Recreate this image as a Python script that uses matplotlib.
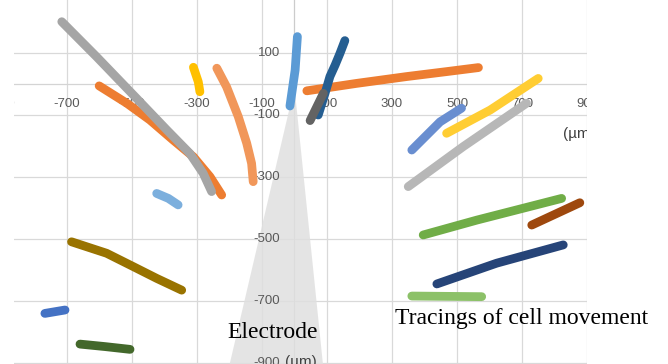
import numpy as np
import matplotlib
matplotlib.use("Agg")
import matplotlib.pyplot as plt
from matplotlib.patches import Polygon

# cell tracks, x / y in um, one small array per tracked cell
blue = np.array([[9, 153], [2, 45], [-14, -71]])
orange_l = np.array([[-601, -6], [-516, -62], [-445, -116], [-373, -181],
                     [-311, -235], [-260, -299], [-224, -358]])
orange_r = np.array([[38, -22], [191, 2], [345, 24], [468, 40], [566, 53]])
gray = np.array([[-716, 201], [-609, 88], [-486, -46], [-393, -148],
                 [-322, -224], [-281, -288], [-255, -347]])
gold = np.array([[-311, 54], [-296, 7], [-291, -25]])
blue2 = np.array([[-768, -740], [-706, -729]])
green = np.array([[396, -487], [561, -439], [822, -369]])
steel = np.array([[155, 140], [140, 99], [125, 61], [109, 24], [94, -30], [73, -100]])
brown = np.array([[730, -455], [878, -383]])
dgray = np.array([[89, -30], [48, -118]])
dgold = np.array([[-686, -509], [-578, -546], [-496, -589], [-424, -627], [-347, -665]])
navy = np.array([[438, -645], [622, -578], [827, -519]])
dgreen = np.array([[-660, -839], [-583, -847], [-506, -856]])
lblue = np.array([[-424, -353], [-388, -369], [-358, -390]])
lorange = np.array([[-239, 51], [-209, -9], [-173, -105], [-147, -191],
                    [-132, -256], [-127, -315]])
lgray = np.array([[350, -331], [519, -202], [714, -62]])
lgold = np.array([[468, -159], [602, -84], [750, 18]])
lblue2 = np.array([[361, -213], [448, -122], [514, -78]])
lgreen = np.array([[361, -684], [576, -686]])

tracks = [blue, orange_l, orange_r, gray, gold, blue2, green, steel, brown,
          dgray, dgold, navy, dgreen, lblue, lorange, lgray, lgold, lblue2, lgreen]
colors = ["#5b9bd5", "#ed7d31", "#ed7d31", "#a5a5a5", "#ffc000", "#4472c4",
          "#70ad47", "#255e91", "#9e480e", "#636363", "#997300", "#264478",
          "#43682b", "#7cafdd", "#f1975a", "#b7b7b7", "#ffcd33", "#698ed0",
          "#8cc168"]

xticks = [-900, -700, -500, -300, -100, 100, 300, 500, 700, 900]
yticks = [100, -100, -300, -500, -700, -900]

# electrode outline (apex near the origin)
electrode = np.array([[0, -10], [-221, -1000], [97, -1000]])

fig = plt.figure(figsize=(6.68, 3.64), dpi=100)
ax = fig.add_axes([14 / 668, 0, 573 / 668, 1])
ax.set_xlim(-863, 900)
ax.set_ylim(-903.2, 271)
ax.axis("off")

# grid
for xv in xticks:
    ax.axvline(xv, color="#d9d9d9", lw=0.9, zorder=1)
for yv in yticks + [300]:
    ax.axhline(yv, color="#d9d9d9", lw=0.9, zorder=1)
ax.axvline(0, color="#cccccc", lw=0.9, zorder=1)
ax.axhline(0, color="#d4d4d4", lw=0.9, zorder=1)

ax.add_patch(Polygon(electrode, closed=True, facecolor="#e0e0e0",
                     edgecolor="none", alpha=0.85, zorder=1.5))

# tick labels sit next to the axis lines through 0
for xv in xticks:
    ax.text(xv, -65, str(xv), ha="center", va="center", fontsize=9.5,
            color="#595959", family="Liberation Sans", clip_on=True, zorder=2)
for yv in yticks:
    ax.text(-45, yv, str(yv), ha="right", va="center", fontsize=9.5,
            color="#595959", family="Liberation Sans", clip_on=True, zorder=2)

ax.text(827, -160, "(\u00b5m)", ha="left", va="center", fontsize=11,
        color="#404040", family="Liberation Sans", clip_on=True, zorder=2)
ax.text(-29, -897, "(\u00b5m)", ha="left", va="center", fontsize=11,
        color="#404040", family="Liberation Sans", clip_on=True, zorder=2)

for trk, c in zip(tracks, colors):
    ax.plot(trk[:, 0], trk[:, 1], "-", color=c, lw=6.3,
            solid_capstyle="round", solid_joinstyle="round", zorder=3)

ax.text(-205, -800, "Electrode", ha="left", va="center", fontsize=17,
        family="Liberation Serif", color="black", zorder=4)
ax.text(309, -755, "Tracings of cell movement", ha="left", va="center",
        fontsize=17, family="Liberation Serif", color="black", zorder=4,
        clip_on=False)

fig.savefig("out.png", dpi=100)
